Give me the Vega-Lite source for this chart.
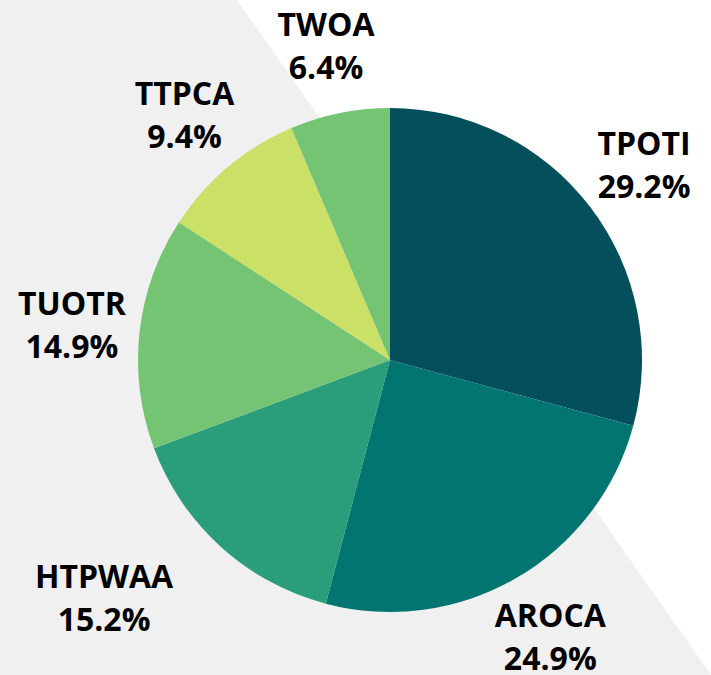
{
  "$schema": "https://vega.github.io/schema/vega-lite/v6.json",
  "width": 642,
  "height": 630,
  "autosize": {"type": "none"},
  "padding": {"left": 69, "top": 45, "right": 0, "bottom": 0},
  "background": "white",
  "config": {"view": {"stroke": null}, "font": "Open Sans"},
  "data": {
    "values": [
      {"idx": 1, "name": "TPOTI", "share": 0.292},
      {"idx": 2, "name": "AROCA", "share": 0.249},
      {"idx": 3, "name": "HTPWAA", "share": 0.152},
      {"idx": 4, "name": "TUOTR", "share": 0.149},
      {"idx": 5, "name": "TTPCA", "share": 0.094},
      {"idx": 6, "name": "TWOA", "share": 0.064}
    ]
  },
  "layer": [
    {
      "data": {"values": [{"by": 0, "bx0": 0, "bx1": 237}, {"by": 675, "bx0": 0, "bx1": 711}]},
      "mark": {"type": "area", "orient": "horizontal", "color": "#F0F0F0", "clip": false},
      "encoding": {
        "y": {"field": "by", "type": "quantitative", "scale": {"domain": [45, 675], "reverse": true, "nice": false, "zero": false}, "axis": null},
        "x": {"field": "bx0", "type": "quantitative", "scale": {"domain": [69, 711], "nice": false, "zero": false}, "axis": null},
        "x2": {"field": "bx1"}
      }
    },
    {
      "mark": {"type": "arc", "outerRadius": 252},
      "encoding": {
        "theta": {"field": "share", "type": "quantitative", "stack": true},
        "order": {"field": "idx", "type": "quantitative"},
        "color": {
          "field": "name", "type": "nominal", "legend": null,
          "scale": {
            "domain": ["TPOTI", "AROCA", "HTPWAA", "TUOTR", "TTPCA", "TWOA"],
            "range": ["#03505C", "#037571", "#2A9D7B", "#74C473", "#CAE067", "#74C473"]
          }
        }
      }
    },
    {
      "mark": {"type": "text", "radius": 320, "fontSize": 32, "fontWeight": "bold", "font": "Open Sans", "color": "black", "baseline": "middle", "align": "center", "dy": -20},
      "encoding": {
        "theta": {"field": "share", "type": "quantitative", "stack": true},
        "order": {"field": "idx", "type": "quantitative"},
        "text": {"condition": {"test": "datum.name == 'HTPWAA'", "value": ""}, "field": "name", "type": "nominal"}
      }
    },
    {
      "mark": {"type": "text", "radius": 320, "fontSize": 32, "fontWeight": "bold", "font": "Open Sans", "color": "black", "baseline": "middle", "align": "center", "dy": 23},
      "encoding": {
        "theta": {"field": "share", "type": "quantitative", "stack": true},
        "order": {"field": "idx", "type": "quantitative"},
        "text": {"condition": {"test": "datum.name == 'HTPWAA'", "value": ""}, "field": "share", "type": "quantitative", "format": ".1%"}
      }
    },
    {
      "mark": {"type": "text", "radius": 319, "fontSize": 32, "fontWeight": "bold", "font": "Open Sans", "color": "black", "baseline": "middle", "align": "center", "dx": -72, "dy": -19},
      "encoding": {
        "theta": {"field": "share", "type": "quantitative", "stack": true},
        "order": {"field": "idx", "type": "quantitative"},
        "text": {"condition": {"test": "datum.name != 'HTPWAA'", "value": ""}, "field": "name", "type": "nominal"}
      }
    },
    {
      "mark": {"type": "text", "radius": 319, "fontSize": 32, "fontWeight": "bold", "font": "Open Sans", "color": "black", "baseline": "middle", "align": "center", "dx": -72, "dy": 24},
      "encoding": {
        "theta": {"field": "share", "type": "quantitative", "stack": true},
        "order": {"field": "idx", "type": "quantitative"},
        "text": {"condition": {"test": "datum.name != 'HTPWAA'", "value": ""}, "field": "share", "type": "quantitative", "format": ".1%"}
      }
    }
  ]
}
